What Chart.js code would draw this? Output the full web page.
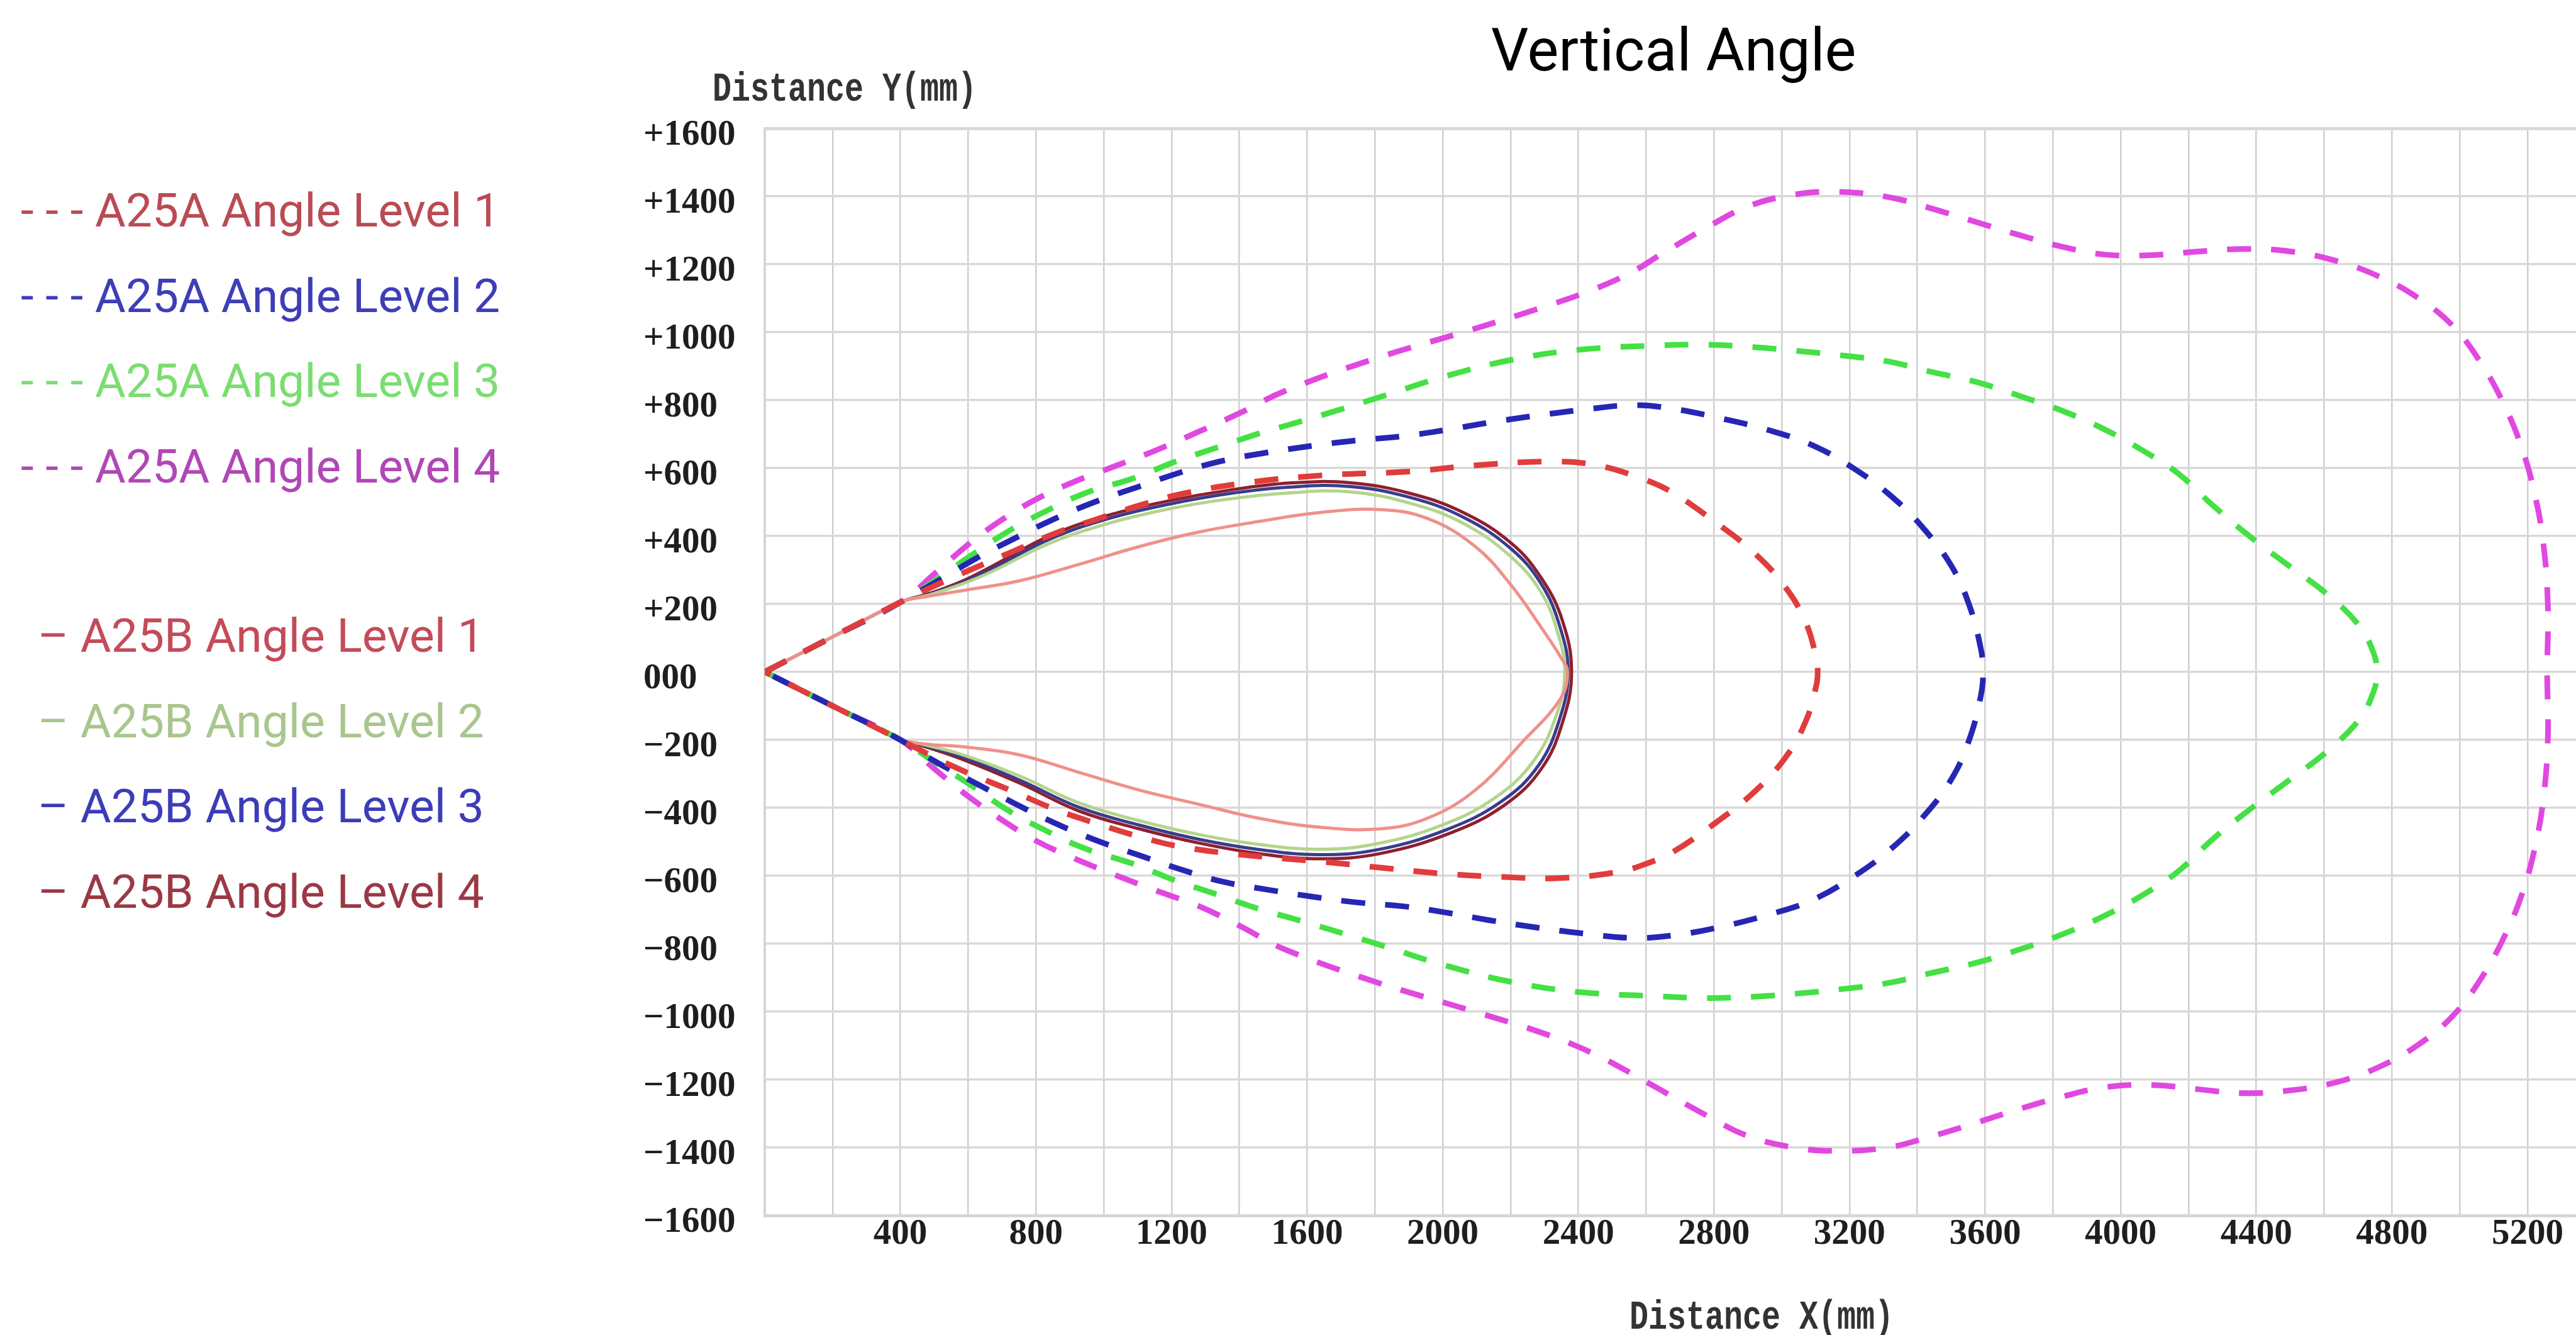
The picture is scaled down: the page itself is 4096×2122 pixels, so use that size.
<!DOCTYPE html>
<html>
<head>
<meta charset="utf-8">
<title>Vertical Angle</title>
<script src="https://cdn.jsdelivr.net/npm/chart.js@4.4.1/dist/chart.umd.min.js"></script>
<style>
  html, body { margin: 0; padding: 0; background: #fff; }
  #wrap { width: 4096px; height: 2122px; }
</style>
</head>
<body>
<div id="wrap"><canvas id="verticalAngle" width="4096" height="2122"></canvas></div>
<script>
const chartTitle = "Vertical Angle";
const xAxisTitle = "Distance X(mm)";
const yAxisTitle = "Distance Y(mm)";

const seriesLabels = [
    "A25A Angle Level 1", "A25A Angle Level 2", "A25A Angle Level 3", "A25A Angle Level 4",
    "A25B Angle Level 1", "A25B Angle Level 2", "A25B Angle Level 3", "A25B Angle Level 4",
];
const lineColors = ["#e03c3c", "#2626b4", "#44e044", "#e048e0", "#f0908a", "#b4d48c", "#3a3c8c", "#8e1f2e"];
const legendColors = ["#b94b55", "#3e3eb6", "#7bdd71", "#b047b6", "#c44b59", "#a8c68e", "#3c3cba", "#9a3944"];

const xTickValues = [0, 200, 400, 600, 800, 1000, 1200, 1400, 1600, 1800, 2000, 2200, 2400, 2600,
    2800, 3000, 3200, 3400, 3600, 3800, 4000, 4200, 4400, 4600, 4800, 5000, 5200];
const yTickValues = [-1600, -1400, -1200, -1000, -800, -600, -400, -200, 0,
    200, 400, 600, 800, 1000, 1200, 1400, 1600];

// A25A (dashed) outlines, traced from the origin over the top and back along the bottom
const a25aLevel1X = [0, 200, 400, 560, 733, 857, 981, 1105, 1229, 1424, 1637, 1902, 2096, 2308, 2451, 2593, 2676, 2797, 2916, 3011, 3071, 3102, 3106,
    3102, 3071, 3011, 2916, 2797, 2676, 2610, 2521, 2343, 2166, 1990, 1814, 1637, 1424, 1229, 1105, 981, 857, 733, 560, 400, 200, 0];
const a25aLevel1Y = [0, 103, 205, 280, 355, 408, 450, 490, 524, 557, 578, 590, 608, 619, 609, 567, 529, 446, 353, 249, 145, 40, 0,
    -40, -145, -252, -356, -450, -532, -561, -588, -607, -603, -593, -576, -558, -540, -515, -485, -447, -405, -352, -280, -200, -100, 0];

const a25aLevel2X = [0, 200, 400, 500, 627, 733, 849, 973, 1105, 1229, 1353, 1477, 1618, 1742, 1884, 2008, 2132, 2273, 2415, 2560, 2676, 2813, 2960, 3089, 3208, 3321, 3416, 3501, 3553, 3587, 3594,
    3587, 3553, 3501, 3416, 3321, 3208, 3089, 2960, 2813, 2676, 2560, 2415, 2273, 2132, 2008, 1884, 1742, 1618, 1477, 1353, 1229, 1105, 973, 849, 733, 627, 500, 400, 200, 0];
const a25aLevel2Y = [0, 103, 205, 262, 336, 391, 448, 500, 546, 588, 622, 645, 666, 681, 694, 712, 733, 754, 772, 785, 775, 748, 712, 668, 602, 519, 425, 311, 197, 70, 0,
    -72, -200, -315, -428, -522, -605, -672, -715, -752, -776, -783, -770, -752, -730, -708, -690, -678, -662, -640, -618, -582, -540, -494, -442, -385, -330, -262, -200, -100, 0];

const a25aLevel3X = [0, 200, 400, 500, 609, 715, 831, 945, 1087, 1211, 1336, 1459, 1583, 1706, 1830, 2000, 2200, 2400, 2642, 2779, 2916, 3045, 3174, 3313, 3442, 3579, 3708, 3829, 3948, 4068, 4172, 4274, 4387, 4498, 4611, 4705, 4748, 4755,
    4748, 4705, 4611, 4498, 4387, 4274, 4172, 4068, 3948, 3829, 3708, 3579, 3442, 3313, 3174, 3045, 2916, 2779, 2642, 2400, 2200, 2000, 1830, 1706, 1583, 1459, 1336, 1211, 1087, 945, 831, 715, 609, 500, 400, 200, 0];
const a25aLevel3Y = [0, 103, 205, 268, 343, 412, 474, 526, 570, 619, 661, 702, 738, 775, 814, 868, 918, 948, 961, 963, 956, 945, 932, 914, 883, 852, 810, 768, 716, 650, 582, 488, 394, 311, 227, 134, 50, 0,
    -52, -138, -232, -318, -400, -490, -585, -655, -720, -772, -815, -855, -886, -916, -934, -947, -956, -960, -955, -942, -912, -862, -808, -770, -733, -698, -656, -614, -565, -520, -468, -406, -334, -265, -200, -100, 0];

const a25aLevel4X = [0, 200, 400, 500, 600, 700, 800, 911, 1034, 1158, 1282, 1406, 1530, 1800, 2077, 2300, 2450, 2560, 2642, 2779, 2900, 3037, 3166, 3313, 3432, 3571, 3690, 3829, 3957, 4095, 4224, 4361, 4498, 4635, 4764, 4877, 4980, 5066, 5135, 5185, 5220, 5246, 5260, 5258,
    5260, 5246, 5220, 5185, 5135, 5066, 4980, 4877, 4764, 4635, 4498, 4361, 4224, 4095, 3957, 3829, 3690, 3571, 3432, 3313, 3166, 3037, 2900, 2779, 2642, 2560, 2450, 2300, 2077, 1800, 1530, 1406, 1282, 1158, 1034, 911, 800, 700, 600, 500, 400, 200, 0];
const a25aLevel4Y = [0, 103, 205, 288, 375, 448, 508, 559, 606, 654, 708, 764, 825, 922, 1005, 1075, 1128, 1178, 1228, 1308, 1370, 1405, 1413, 1398, 1367, 1325, 1289, 1251, 1228, 1227, 1237, 1245, 1238, 1210, 1163, 1101, 1018, 904, 778, 654, 529, 384, 197, 0,
    -197, -380, -525, -650, -772, -898, -1012, -1098, -1162, -1208, -1232, -1240, -1228, -1216, -1222, -1250, -1290, -1328, -1370, -1400, -1410, -1400, -1366, -1306, -1230, -1184, -1126, -1065, -995, -912, -815, -750, -690, -645, -598, -548, -497, -436, -366, -285, -200, -100, 0];

// A25B (solid) outlines
const a25bLevel1X = [0, 200, 400, 480, 600, 751, 928, 1105, 1282, 1459, 1636, 1814, 1954, 2096, 2202, 2291, 2350, 2368,
    2348, 2238, 2096, 1954, 1814, 1636, 1459, 1282, 1105, 928, 751, 600, 470, 400, 200, 0];
const a25bLevel1Y = [0, 103, 205, 222, 242, 268, 317, 369, 412, 443, 469, 478, 452, 369, 255, 130, 40, 0,
    -78, -203, -348, -431, -462, -457, -431, -390, -348, -296, -244, -222, -212, -200, -100, 0];

const a25bLevel2X = [0, 200, 400, 490, 580, 663, 839, 1017, 1194, 1370, 1548, 1724, 1902, 2061, 2202, 2291, 2340, 2360,
    2336, 2268, 2155, 1995, 1800, 1636, 1459, 1282, 1105, 928, 751, 574, 450, 400, 200, 0];
const a25bLevel2Y = [0, 103, 205, 228, 258, 292, 378, 438, 480, 509, 527, 530, 497, 437, 338, 233, 112, 0,
    -125, -262, -370, -452, -507, -522, -508, -479, -438, -386, -306, -241, -210, -200, -100, 0];

const a25bLevel3X = [0, 200, 400, 490, 580, 663, 839, 1017, 1194, 1370, 1548, 1724, 1902, 2061, 2202, 2291, 2345, 2370,
    2345, 2282, 2172, 2012, 1810, 1636, 1459, 1282, 1105, 928, 751, 574, 450, 400, 200, 0];
const a25bLevel3Y = [0, 103, 205, 230, 262, 300, 390, 452, 494, 525, 544, 546, 514, 455, 362, 258, 135, 0,
    -138, -276, -382, -464, -523, -538, -523, -493, -451, -399, -318, -248, -211, -200, -100, 0];

const a25bLevel4X = [0, 200, 400, 490, 580, 663, 839, 1017, 1194, 1370, 1548, 1724, 1902, 2061, 2202, 2291, 2353, 2380,
    2353, 2291, 2185, 2026, 1814, 1636, 1459, 1282, 1105, 928, 751, 574, 450, 400, 200, 0];
const a25bLevel4Y = [0, 103, 205, 232, 266, 307, 400, 462, 504, 535, 556, 557, 526, 469, 379, 276, 151, 0,
    -150, -285, -390, -473, -535, -550, -535, -504, -462, -410, -327, -254, -213, -200, -100, 0];

const seriesX = [a25aLevel1X, a25aLevel2X, a25aLevel3X, a25aLevel4X, a25bLevel1X, a25bLevel2X, a25bLevel3X, a25bLevel4X];
const seriesY = [a25aLevel1Y, a25aLevel2Y, a25aLevel3Y, a25aLevel4Y, a25bLevel1Y, a25bLevel2Y, a25bLevel3Y, a25bLevel4Y];

function toPoints(xs, ys) {
    return xs.map((x, i) => ({ x: x, y: ys[i] }));
}

const datasets = seriesLabels.map((label, i) => {
    const dashed = i < 4;
    return {
        label: label,
        data: toPoints(seriesX[i], seriesY[i]),
        showLine: true,
        borderColor: lineColors[i],
        backgroundColor: lineColors[i],
        borderWidth: dashed ? 9 : 5,
        borderDash: dashed ? [38, 32] : [],
        pointRadius: 0,
        tension: 0.4,
        fill: false,
        order: dashed ? 0 : 1,
    };
});

// title, axis titles and the two-group legend are drawn straight on the canvas
const textOverlay = {
    id: "textOverlay",
    afterDraw(chart) {
        const ctx = chart.ctx;
        ctx.save();
        ctx.textBaseline = "alphabetic";

        ctx.fillStyle = "#000";
        ctx.font = '94px Roboto';
        ctx.textAlign = "center";
        ctx.fillText(chartTitle, 2661, 112);

        ctx.fillStyle = "#333";
        ctx.font = 'bold 50px "Liberation Mono"';
        ctx.save();
        ctx.translate(1133, 160);
        ctx.scale(1, 1.3);
        ctx.textAlign = "left";
        ctx.fillText(yAxisTitle, 0, 0);
        ctx.restore();
        ctx.save();
        ctx.translate(2801, 2112);
        ctx.scale(1, 1.3);
        ctx.textAlign = "center";
        ctx.fillText(xAxisTitle, 0, 0);
        ctx.restore();

        ctx.font = '75px Roboto';
        ctx.textAlign = "left";
        chart.data.datasets.forEach((ds, i) => {
            const dashed = i < 4;
            const row = dashed ? i : i - 4;
            const baseY = (dashed ? 360 : 1036) + row * 135.5;
            ctx.fillStyle = legendColors[i];
            ctx.fillText((dashed ? "- - - " : "\u2013 ") + ds.label, dashed ? 33 : 60, baseY);
        });
        ctx.restore();
    },
};

new Chart(document.getElementById("verticalAngle"), {
    type: "scatter",
    data: { datasets: datasets },
    options: {
        responsive: false,
        animation: false,
        devicePixelRatio: 1,
        layout: { padding: { left: 1023, top: 204, right: 0, bottom: 0 } },
        plugins: {
            legend: { display: false },
            title: { display: false },
            tooltip: { enabled: false },
        },
        scales: {
            x: {
                type: "linear",
                min: 0,
                max: 5343,
                afterBuildTicks: (scale) => {
                    scale.ticks = xTickValues.map((v) => ({ value: v }));
                },
                afterFit: (scale) => {
                    scale.height = 190;
                },
                grid: { color: "#cfcfcf", lineWidth: 2.5, drawTicks: false },
                border: { display: true, color: "#d6d6d6", width: 4 },
                ticks: {
                    padding: 2,
                    color: "#1e1e1e",
                    maxRotation: 0,
                    autoSkip: false,
                    font: { family: '"Liberation Serif"', size: 57, weight: "bold", lineHeight: 1 },
                    callback: (value) => (value !== 0 && value % 400 === 0 ? String(value) : ""),
                },
            },
            y: {
                type: "linear",
                min: -1600,
                max: 1600,
                afterBuildTicks: (scale) => {
                    scale.ticks = yTickValues.map((v) => ({ value: v }));
                },
                afterFit: (scale) => {
                    scale.width = 193;
                },
                grid: {
                    color: "#d9d9d9",
                    lineWidth: (ctx) => (ctx.tick && Math.abs(ctx.tick.value) === 1600 ? 5 : 3.5),
                    drawTicks: false,
                },
                border: { display: true, color: "#d6d6d6", width: 4 },
                ticks: {
                    crossAlign: "far",
                    labelOffset: 11,
                    color: "#1e1e1e",
                    autoSkip: false,
                    font: { family: '"Liberation Serif"', size: 57, weight: "bold", lineHeight: 1 },
                    callback: (value) => (value > 0 ? "+" + value : value === 0 ? "000" : "\u2212" + Math.abs(value)),
                },
            },
        },
    },
    plugins: [textOverlay],
});
</script>
</body>
</html>
